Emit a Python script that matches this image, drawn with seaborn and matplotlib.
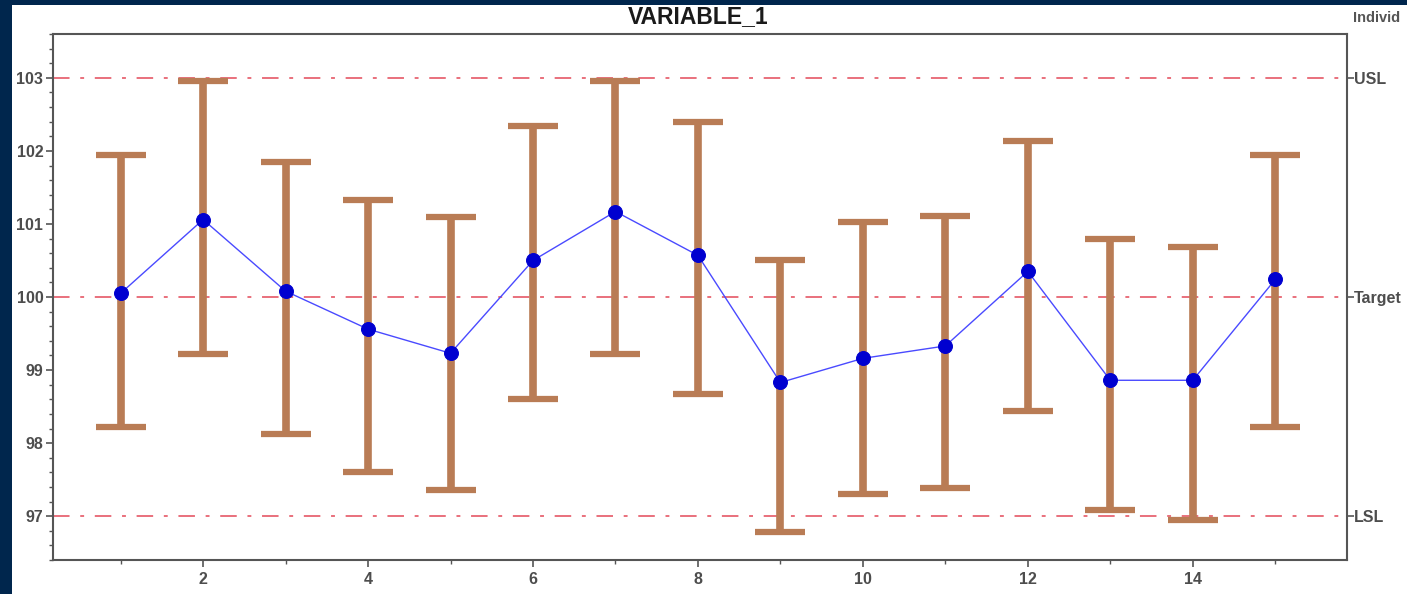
import matplotlib
matplotlib.use("Agg")
import matplotlib.pyplot as plt
from matplotlib.ticker import MultipleLocator
import seaborn as sns
import pandas as pd
import numpy as np

# ---- data ----
samples = list(range(1, 16))
means = [100.05, 101.06, 100.08, 99.56, 99.23, 100.50, 101.17, 100.57,
         98.83, 99.16, 99.33, 100.35, 98.86, 98.86, 100.24]
upper = [101.95, 102.95, 101.85, 101.33, 101.09, 102.34, 102.95, 102.39,
         100.50, 101.02, 101.11, 102.14, 100.80, 100.68, 101.95]
lower = [98.22, 99.22, 98.12, 97.60, 97.36, 98.61, 99.22, 98.67,
         96.78, 97.30, 97.39, 98.44, 97.08, 96.95, 98.22]
ref_values = [103, 100, 97]
ref_labels = ["USL", "Target", "LSL"]
title = "VARIABLE_1"
corner_text = "Individ"

df = pd.DataFrame({"sample": samples, "mean": means})

sns.set_theme(style="white")
plt.rcParams["font.family"] = ["Liberation Sans", "DejaVu Sans"]

W, H = 1407, 594
fig = plt.figure(figsize=(W / 100, H / 100), dpi=100)
fig.patch.set_facecolor("#00264d")
bg = plt.Rectangle((12 / W, 0), 1, (H - 5) / H, transform=fig.transFigure,
                   facecolor="white", edgecolor="none", zorder=-10)
fig.add_artist(bg)

ax = fig.add_axes([53 / W, 1 - 560 / H, (1347 - 53) / W, (560 - 34) / H])
ax.set_facecolor("white")

# reference lines
for v in ref_values:
    ax.axhline(v, color="#e9707c", lw=1.4, linestyle=(0, (8.5, 5.5, 2, 5.5)), zorder=1)

# error bars
err_lo = np.array(means) - np.array(lower)
err_hi = np.array(upper) - np.array(means)
ax.errorbar(samples, means, yerr=[err_lo, err_hi], fmt="none", ecolor="#b97c55",
            elinewidth=5.5, capsize=18, capthick=4.5, zorder=2)

sns.lineplot(data=df, x="sample", y="mean", ax=ax, color="#4a4aff", lw=1.0,
             marker="o", markersize=10, markerfacecolor="#0000d0",
             markeredgecolor="#0000d0", zorder=3)

ax.set_xlim(0.18, 15.87)
ax.set_ylim(96.4, 103.6)
ax.set_xlabel("")
ax.set_ylabel("")

ax.xaxis.set_major_locator(MultipleLocator(2))
ax.xaxis.set_minor_locator(MultipleLocator(1))
ax.yaxis.set_major_locator(MultipleLocator(1))
ax.yaxis.set_minor_locator(MultipleLocator(0.2))
ax.set_xticks(range(2, 16, 2))
ax.set_xticklabels([str(i) for i in range(2, 16, 2)])

for s in ax.spines.values():
    s.set_color("#555555")
    s.set_linewidth(1.5)

lab_color = "#4d4d4d"
ax.tick_params(axis="both", which="major", direction="out", length=5, width=1.2,
               color="#555555", labelsize=11.5, labelcolor=lab_color, pad=2,
               bottom=True, left=True)
ax.tick_params(axis="both", which="minor", direction="out", length=3, width=1,
               color="#555555", bottom=True, left=True)
ax.tick_params(axis="x", pad=4)
for lbl in ax.get_xticklabels() + ax.get_yticklabels():
    lbl.set_fontweight("bold")

# right-hand labels
ax2 = ax.twinx()
ax2.set_ylim(ax.get_ylim())
ax2.set_yticks(ref_values)
ax2.set_yticklabels(ref_labels)
ax2.tick_params(axis="y", direction="out", length=5, width=1.2, color="#555555",
                labelsize=11.5, labelcolor=lab_color, pad=0)
for lbl in ax2.get_yticklabels():
    lbl.set_fontweight("bold")
ax2.grid(False)
for s in ax2.spines.values():
    s.set_visible(False)

fig.text(698 / W, 1 - 17 / H, title, ha="center", va="center", fontsize=16.5,
         fontweight="bold", color="#1a1a1a")
fig.text(1353 / W, 1 - 18 / H, corner_text, ha="left", va="center", fontsize=10.5,
         fontweight="bold", color="#555555")

fig.savefig("out.png", dpi=100, facecolor=fig.get_facecolor())
